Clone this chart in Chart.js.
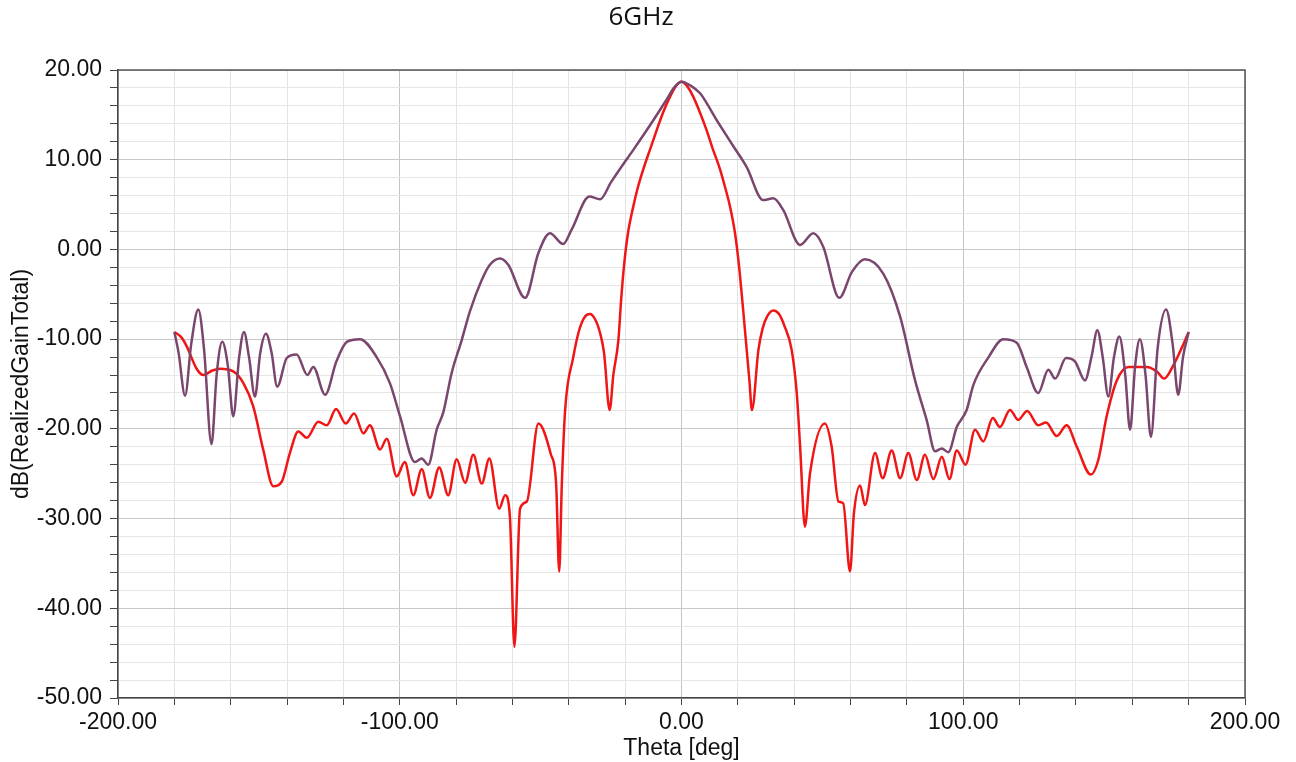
<!DOCTYPE html>
<html>
<head>
<meta charset="utf-8">
<script src="https://cdn.jsdelivr.net/npm/chart.js@4.4.1/dist/chart.umd.min.js"></script>
<style>
  html, body { margin: 0; padding: 0; background: #fff; }
  #wrap { width: 1296px; height: 762px; }
</style>
</head>
<body>
<div id="wrap"><canvas id="chart" width="1296" height="762"></canvas></div>
<script>
// purple curve (dB(RealizedGainTotal), wider pattern)
const purpleTheta = [-180, -178.5, -176.2, -174, -171.5, -169.5, -166.8, -165, -163, -161, -159.1, -157, -155.3, -153.5, -151.4, -149.5, -147.5, -145.5, -143.5, -140.1, -136.6, -132.8, -130.7, -126.5, -122.5, -118.8, -114.1, -108.2, -103.5, -99.9, -94.6, -92.2, -89.9, -86.9, -84.5, -81.6, -78, -75.1, -70.9, -68, -64.4, -61.5, -55.5, -50.8, -46.7, -42, -39, -32.7, -28.9, -25, -21.8, -17.1, -10, -5.3, -2.5, 0, 3, 6.6, 12.5, 18.4, 23.1, 29, 32.6, 36.1, 42.1, 46.8, 50.3, 56, 60.5, 65.1, 71.6, 77.6, 82.9, 87, 90, 92.4, 94.7, 97.7, 101.2, 103.6, 109, 114.2, 119, 122.5, 126.6, 130.2, 132.6, 136.5, 139.7, 143.2, 145.5, 147.6, 149.5, 151.5, 153.5, 155.4, 157.5, 159.2, 161, 162.7, 164.7, 166.6, 169, 172, 174.3, 176.3, 178, 180];
const purpleGain = [-9.2, -11.5, -16.3, -10.5, -6.7, -11, -21.7, -14, -10.3, -13, -18.6, -12, -9.2, -12, -16.4, -11.5, -9.4, -11.5, -15.3, -12.1, -11.7, -14, -13.1, -16.2, -12.5, -10.3, -10, -12, -14.9, -18.6, -23.7, -23.3, -24, -20.1, -18.1, -13.8, -10.1, -6.9, -3.4, -1.7, -1, -1.7, -5.4, -0.4, 1.8, 0.6, 2.2, 5.9, 5.6, 7.5, 9, 11.1, 14.4, 16.7, 18.1, 18.7, 18.3, 17.4, 14.4, 11.5, 9.2, 5.5, 5.7, 4.4, 0.5, 1.8, 0.3, -5.4, -2.5, -1.1, -2.7, -7.5, -14.6, -19, -22.5, -22.2, -22.6, -19.8, -17.9, -15.1, -12, -10, -10.4, -13.1, -16, -13.4, -14.4, -12.1, -12.5, -14.6, -12, -9, -12, -16.4, -12, -9.7, -14, -20.1, -13, -10, -14, -20.9, -11, -6.7, -10.5, -16.2, -12, -9.2];

// red curve (narrow main beam)
const redTheta = [-180, -177.5, -175.6, -172.1, -169.7, -166.5, -163.8, -159.1, -155.5, -152, -148.4, -144.9, -141.9, -139, -136, -133, -128.9, -125.9, -122.6, -119.2, -116.2, -112.9, -110.6, -107, -104.6, -101.1, -98.2, -95.2, -92.2, -89.3, -86, -82.8, -79.8, -76.8, -73.9, -70.9, -68.2, -64.7, -62.6, -60.9, -59.3, -57.3, -54.9, -50.8, -46.4, -44.5, -43.4, -42.5, -41.3, -38.4, -36.5, -34.5, -32.6, -30.8, -29, -27.5, -25.5, -24.2, -22.4, -21.4, -20.3, -19, -17.1, -15.5, -13.6, -11, -8.8, -6.5, -4.1, -2, 0, 2, 4.2, 6.5, 8.9, 11, 13.7, 15.5, 17.2, 19, 20.3, 21.9, 24.1, 25, 27.3, 28.8, 30.5, 32.6, 34.6, 36.5, 39.1, 40.9, 42.1, 43.8, 45.6, 50.9, 53.3, 55.7, 57.4, 59.8, 61.2, 63.4, 65.1, 68.7, 71.4, 74.6, 77.6, 80.5, 83.5, 86.4, 89.4, 92.4, 95.1, 97.7, 100.8, 104.2, 107.1, 110.5, 113, 116.6, 119.5, 122.7, 126.6, 129.4, 133.2, 136.7, 140.3, 145.3, 147.9, 150.9, 154.5, 158.6, 165.1, 168.7, 171.3, 174.6, 177.5, 180];
const redGain = [-9.2, -9.8, -10.8, -13.3, -14, -13.5, -13.3, -13.6, -14.9, -17.5, -22.4, -26.4, -25.9, -22.7, -20.3, -21, -19.2, -19.6, -17.8, -19.4, -18.3, -20.5, -19.6, -22.3, -21.1, -25.3, -23.7, -27.4, -24.5, -27.7, -24.3, -27.4, -23.4, -26, -22.9, -26.1, -23.3, -28.9, -27.4, -29.8, -44.3, -28.9, -28.1, -19.4, -22.8, -26.1, -35.9, -26.4, -17.9, -12, -9.2, -7.6, -7.2, -7.7, -9.2, -11.5, -17.9, -14, -10.1, -5.5, -1.5, 1.8, 4.8, 6.9, 8.9, 11.3, 13.3, 15.3, 17, 18.2, 18.7, 18.2, 17, 15.3, 13.3, 11.3, 8.9, 6.9, 4.8, 1.8, -1.5, -6.8, -14.6, -17.9, -11.2, -8.8, -7.4, -6.8, -7.2, -8.5, -11.2, -16, -22, -30.9, -25, -19.4, -22, -28.1, -28.3, -35.9, -29.4, -26.3, -28.5, -22.7, -25.5, -22.4, -25.5, -22.7, -25.7, -22.9, -25.6, -23.1, -25.6, -22.4, -24, -20.1, -21.4, -18.8, -19.8, -17.9, -19, -18, -19.6, -19.3, -20.8, -19.6, -22, -25.1, -23.5, -18.6, -14.6, -13.1, -13.1, -13.6, -14.4, -12.9, -11, -9.2];

const xMin = -200, xMax = 200, xStep = 20;
const yMin = -50, yMax = 20, yStep = 2;

const toPoints = (xs, ys) => xs.map((x, i) => ({ x, y: ys[i] }));

// top and right edges of the plot frame
const frame = {
  id: "frame",
  afterDraw(c) {
    const a = c.chartArea, ctx = c.ctx;
    ctx.save();
    ctx.strokeStyle = "#555";
    ctx.lineWidth = 1.5;
    ctx.beginPath();
    ctx.moveTo(a.left, a.top);
    ctx.lineTo(a.right, a.top);
    ctx.lineTo(a.right, a.bottom);
    ctx.stroke();
    ctx.restore();
  }
};

const tickFont = { family: "'Liberation Sans', Arial, sans-serif", size: 23 };

new Chart(document.getElementById("chart"), {
  type: "line",
  data: {
    datasets: [
      { data: toPoints(purpleTheta, purpleGain), borderColor: "#7b466e", borderWidth: 2.5 },
      { data: toPoints(redTheta, redGain), borderColor: "#f01616", borderWidth: 2.5 }
    ]
  },
  options: {
    responsive: false,
    animation: false,
    events: [],
    layout: { padding: { left: 37, right: 51, top: 0, bottom: 0 } },
    elements: {
      point: { radius: 0 },
      line: { cubicInterpolationMode: "monotone", fill: false }
    },
    plugins: {
      legend: { display: false },
      tooltip: { enabled: false },
      title: {
        display: true,
        text: "6GHz",
        color: "#111",
        font: { family: "'Open Sans', sans-serif", size: 26, weight: "normal" },
        padding: { top: 2, bottom: 36.8 }
      }
    },
    scales: {
      x: {
        type: "linear",
        min: xMin, max: xMax,
        afterFit: s => { s.height = 64; },
        ticks: {
          stepSize: xStep, autoSkip: false, maxRotation: 0, padding: 4,
          color: "#111", font: tickFont,
          callback: v => (Math.round(v) % 100 === 0 ? v.toFixed(2) : "")
        },
        grid: {
          color: c => (c.tick && Math.round(c.tick.value) % 100 === 0 ? "#c4c4c4" : "#e4e4e4"),
          lineWidth: 1, tickLength: 7, tickColor: "#444"
        },
        border: { color: "#444", width: 1.5 },
        title: {
          display: true, text: "Theta [deg]", color: "#111",
          font: { family: "'Liberation Sans', Arial, sans-serif", size: 23 },
          padding: { top: 3, bottom: 0 }
        }
      },
      y: {
        type: "linear",
        min: yMin, max: yMax,
        afterFit: s => { s.width = 81; },
        ticks: {
          stepSize: yStep, autoSkip: false, padding: 8,
          color: "#111", font: tickFont,
          callback: v => (Math.round(v) % 10 === 0 ? v.toFixed(2) : "")
        },
        grid: {
          color: c => (c.tick && Math.round(c.tick.value) % 10 === 0 ? "#c8c8c8" : "#e6e6e6"),
          lineWidth: 1, tickLength: 8, tickColor: "#444"
        },
        border: { color: "#444", width: 1.5 },
        title: {
          display: true, text: "dB(RealizedGainTotal)", color: "#111",
          font: { family: "'Liberation Sans', Arial, sans-serif", size: 23 },
          padding: { top: -28.8, bottom: 0 }
        }
      }
    }
  },
  plugins: [frame]
});
</script>
</body>
</html>
